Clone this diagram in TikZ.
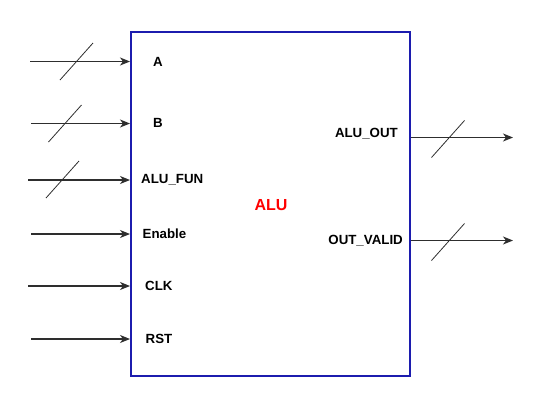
\documentclass[tikz,border=0pt]{standalone}
\usepackage{fontspec}
\setmainfont{Liberation Sans}
\usepackage{tikz}
\usetikzlibrary{arrows.meta, positioning, calc}
\definecolor{boxblue}{HTML}{1C1CAE}
\definecolor{wiregray}{HTML}{2E2E2E}
\definecolor{alured}{HTML}{FF0000}

\begin{document}
\begin{tikzpicture}[x=1pt, y=-1pt, >={Stealth[length=10pt, width=8pt, inset=3pt]},
    font=\fontsize{13.3}{15}\selectfont\bfseries,
    block/.style={rectangle, draw=boxblue, line width=2pt, minimum width=279pt, minimum height=344pt,
      inner sep=0pt},
    port/.style={anchor=west, inner sep=0pt},
    wire/.style={->, draw=wiregray, line width=1.1pt},
    busmark/.style={draw=wiregray, line width=0.8pt}]

    \useasboundingbox (0,0) rectangle (551,405);

    % Block
    \node[block] (alu) at (270.5,204) {};
    \node[text=alured, font=\fontsize{16}{18}\selectfont\bfseries] (name) at (271,205) {ALU};

    % Input ports
    \node[port] (pa) at (153,61.5) {A};
    \node[port] (pb) at (153,123) {B};
    \node[port] (pfun) at (141,180) {ALU\_FUN};
    \node[port] (pen) at (142.5,234) {Enable};
    \node[port] (pclk) at (145,286) {CLK};
    \node[port] (prst) at (145.5,339) {RST};

    % Output ports
    \node[port, anchor=east] (pout) at (398,133.5) {ALU\_OUT};
    \node[port, anchor=east] (pvalid) at (403,240.5) {OUT\_VALID};

    % Wire ends
    \coordinate (ina) at (30,61.5);
    \coordinate (inb) at (31,123.5);
    \coordinate (infun) at (28,180);
    \coordinate (inen) at (31,234);
    \coordinate (inclk) at (28,286);
    \coordinate (inrst) at (31,339);
    \coordinate (outa) at (513,137.5);
    \coordinate (outb) at (513,240.5);

    % Input wires
    \draw[wire] (ina) -- (ina -| alu.west);
    \draw[wire] (inb) -- (inb -| alu.west);
    \draw[wire] (infun) -- (infun -| alu.west);
    \draw[wire] (inen) -- (inen -| alu.west);
    \draw[wire] (inclk) -- (inclk -| alu.west);
    \draw[wire] (inrst) -- (inrst -| alu.west);

    % Output wires
    \draw[wire] (outa -| alu.east) -- (outa);
    \draw[wire] (outb -| alu.east) -- (outb);

    % Bus marks
    \foreach \cx/\cy in {76.5/61.5, 65/123.5, 62.5/179.5, 448/139, 448/242}
      \draw[busmark] (\cx-16.5,\cy+18.5) -- (\cx+16.5,\cy-18.5);
\end{tikzpicture}
\end{document}
